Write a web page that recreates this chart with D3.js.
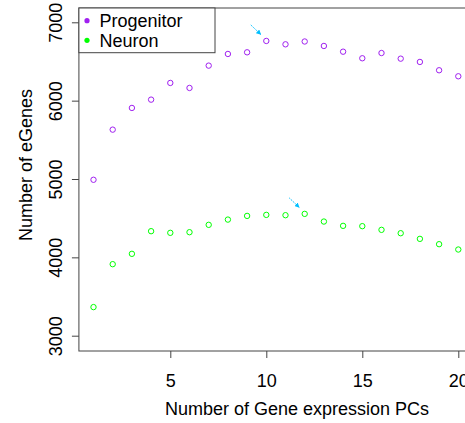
<!DOCTYPE html>
<html>
<head>
<meta charset="utf-8">
<script src="https://cdn.jsdelivr.net/npm/d3@7"></script>
<style>
  html, body { margin: 0; padding: 0; background: #fff; }
  svg { display: block; font-family: "Liberation Sans", Arial, sans-serif; }
</style>
</head>
<body>
<svg id="chart" width="465" height="423"></svg>
<script>
// number of gene expression PCs
var pcs = d3.range(1, 21);
// eGenes per PC count
var progenitor = [4990, 5630, 5907, 6013, 6226, 6162, 6447, 6596, 6617, 6762,
                  6719, 6755, 6698, 6625, 6541, 6608, 6536, 6494, 6388, 6311];
var neuron = [3365, 3913, 4045, 4334, 4313, 4321, 4415, 4482, 4529, 4542,
              4538, 4555, 4457, 4402, 4398, 4351, 4308, 4236, 4168, 4100];
var xTicks = [5, 10, 15, 20];
var yTicks = [3000, 4000, 5000, 6000, 7000];
var seriesNames = ["Progenitor", "Neuron"];
var seriesColors = ["#a020f0", "#00ff00"];

var svg = d3.select("#chart");

var x = d3.scaleLinear().domain([1, 20]).range([93.5, 458.3]);
var y = d3.scaleLinear().domain([3000, 7000]).range([335.7, 22.3]);

// plot box (R style, 4% padding)
var x0 = x(0.24), x1 = x(20.76), yTop = 8, yBot = 351;
svg.append("rect")
    .attr("x", x0).attr("y", yTop)
    .attr("width", x1 - x0).attr("height", yBot - yTop)
    .attr("fill", "none").attr("stroke", "#444").attr("stroke-width", 1);

// ---- axes
var gx = svg.append("g")
    .attr("transform", "translate(0," + yBot + ")")
    .call(d3.axisBottom(x).tickValues(xTicks).tickFormat(d3.format("d"))
          .tickSize(7).tickSizeOuter(0));
gx.select(".domain").remove();
gx.selectAll("line").attr("stroke", "#444");
gx.selectAll("text")
    .attr("y", 36).attr("dy", 0)
    .attr("font-size", 18).attr("font-family", "Liberation Sans, Arial, sans-serif")
    .attr("fill", "#000");

var gy = svg.append("g")
    .attr("transform", "translate(" + x0 + ",0)")
    .call(d3.axisLeft(y).tickValues(yTicks).tickFormat(d3.format("d"))
          .tickSize(7).tickSizeOuter(0));
gy.select(".domain").remove();
gy.selectAll("line").attr("stroke", "#444");
gy.selectAll("text")
    .attr("transform", "rotate(-90)")
    .attr("x", 0).attr("y", -17).attr("dy", 0)
    .attr("text-anchor", "middle")
    .attr("font-size", 18).attr("font-family", "Liberation Sans, Arial, sans-serif")
    .attr("fill", "#000");

svg.append("text")
    .attr("x", 297).attr("y", 415)
    .attr("text-anchor", "middle").attr("font-size", 18)
    .text("Number of Gene expression PCs");

svg.append("text")
    .attr("transform", "translate(31.5,165) rotate(-90)")
    .attr("text-anchor", "middle").attr("font-size", 18)
    .text("Number of eGenes");

// ---- points
var defs = svg.append("defs");
defs.append("marker")
    .attr("id", "head")
    .attr("viewBox", "0 0 10 10")
    .attr("refX", 9).attr("refY", 5)
    .attr("markerWidth", 5).attr("markerHeight", 5)
    .attr("markerUnits", "userSpaceOnUse")
    .attr("orient", "auto")
  .append("path")
    .attr("d", "M0,0L10,5L0,10z")
    .attr("fill", "#00bfff");

[progenitor, neuron].forEach(function(vals, i) {
    svg.append("g").selectAll("circle")
        .data(vals)
        .join("circle")
        .attr("cx", function(d, j) { return x(pcs[j]); })
        .attr("cy", function(d) { return y(d); })
        .attr("r", 2.7)
        .attr("fill", "none")
        .attr("stroke", seriesColors[i])
        .attr("stroke-width", 1);

    // arrow to the max
    var k = d3.maxIndex(vals);
    var px = x(pcs[k]), py = y(vals[k]);
    svg.append("line")
        .attr("x1", px - 15.5).attr("y1", py - 16)
        .attr("x2", px - 5.5).attr("y2", py - 6.5)
        .attr("stroke", "#00bfff").attr("stroke-width", 1)
        .attr("stroke-dasharray", "1.5,1")
        .attr("marker-end", "url(#head)");
});

// ---- legend
var leg = svg.append("g");
leg.append("rect")
    .attr("x", x0).attr("y", yTop)
    .attr("width", 215 - x0).attr("height", 52.7 - yTop)
    .attr("fill", "#fff").attr("stroke", "#444").attr("stroke-width", 1);
seriesNames.forEach(function(name, i) {
    leg.append("circle")
        .attr("cx", 87).attr("cy", 20.7 + i * 19.6)
        .attr("r", 2.6).attr("fill", seriesColors[i]);
    leg.append("text")
        .attr("x", 99.5).attr("y", 27 + i * 19.6)
        .attr("font-size", 18)
        .text(name);
});
</script>
</body>
</html>
